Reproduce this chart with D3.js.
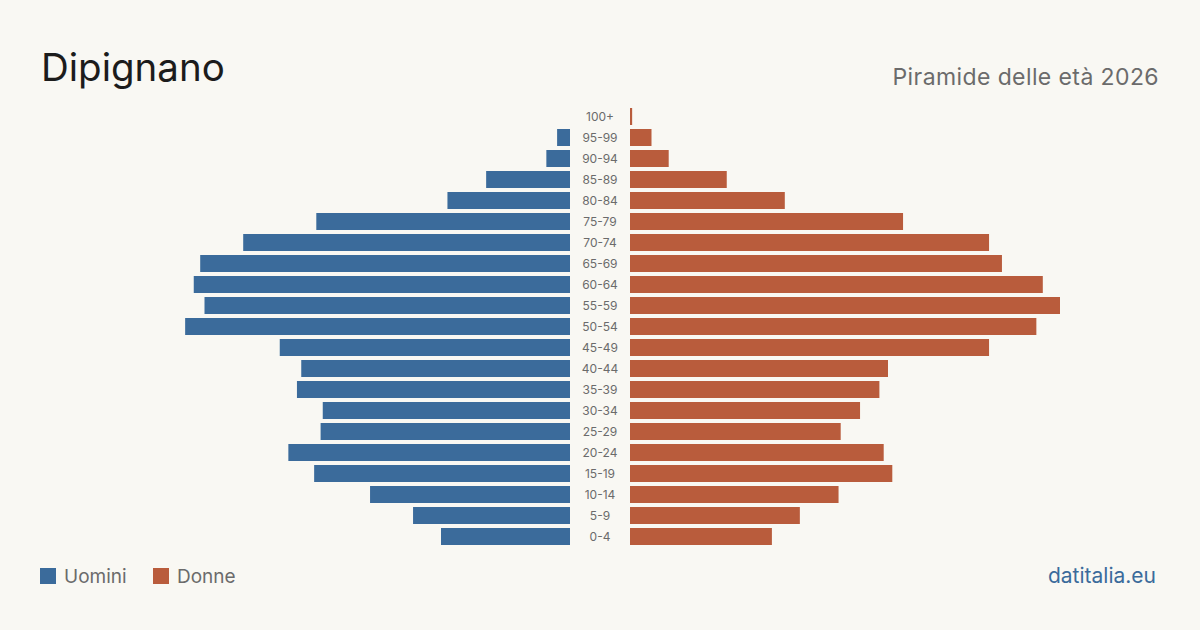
<!DOCTYPE html>
<html>
<head>
<meta charset="utf-8">
<script src="https://cdn.jsdelivr.net/npm/d3@7"></script>
<style>
  html, body { margin: 0; padding: 0; background: #f9f8f3; }
  svg { display: block; font-family: Inter, "Noto Sans", sans-serif; }
</style>
</head>
<body>
<svg id="chart" width="1200" height="630"></svg>
<script>
// classi di età, dall'alto verso il basso
const classi = ["100+", "95-99", "90-94", "85-89", "80-84", "75-79", "70-74", "65-69",
  "60-64", "55-59", "50-54", "45-49", "40-44", "35-39", "30-34", "25-29",
  "20-24", "15-19", "10-14", "5-9", "0-4"];
const uomini = [0, 6, 11, 39, 57, 118, 152, 172, 175, 170, 179, 135, 125, 127, 115, 116, 131, 119, 93, 73, 60];
const donne  = [1, 10, 18, 45, 72, 127, 167, 173, 192, 200, 189, 167, 120, 116, 107, 98, 118, 122, 97, 79, 66];

const BLU = "#3b6b9b";
const ROSSO = "#b95c3c";

const svg = d3.select("#chart");

svg.append("rect").attr("width", 1200).attr("height", 630).attr("fill", "#f9f8f3");

// titolo e sottotitolo
svg.append("text")
  .attr("x", 41).attr("y", 81)
  .attr("font-size", 38.5)
  .attr("fill", "#1c1c1c")
  .text("Dipignano");

svg.append("text")
  .attr("x", 1159).attr("y", 85)
  .attr("text-anchor", "end")
  .attr("font-size", 23)
  .attr("letter-spacing", 0.4)
  .attr("fill", "#6b6b6b")
  .text("Piramide delle età 2026");

// scale
const y = d3.scaleBand()
  .domain(classi)
  .range([106, 547])
  .paddingInner(4 / 21)
  .paddingOuter(2 / 21);

const maxVal = d3.max(uomini.concat(donne));
const x = d3.scaleLinear().domain([0, maxVal]).range([0, 430]);

const centro = 600, gap = 30;

const righe = classi.map((c, i) => ({ classe: c, u: uomini[i], d: donne[i] }));

// barre uomini (sinistra)
svg.append("g")
  .selectAll("rect")
  .data(righe)
  .enter()
  .append("rect")
    .attr("x", d => centro - gap - x(d.u))
    .attr("y", d => y(d.classe))
    .attr("width", d => x(d.u))
    .attr("height", y.bandwidth())
    .attr("fill", BLU);

// barre donne (destra)
svg.append("g")
  .selectAll("rect")
  .data(righe)
  .enter()
  .append("rect")
    .attr("x", centro + gap)
    .attr("y", d => y(d.classe))
    .attr("width", d => x(d.d))
    .attr("height", y.bandwidth())
    .attr("fill", ROSSO);

// etichette età
svg.append("g")
  .selectAll("text")
  .data(righe)
  .enter()
  .append("text")
    .attr("x", centro)
    .attr("y", d => y(d.classe) + y.bandwidth() / 2)
    .attr("dy", "0.35em")
    .attr("text-anchor", "middle")
    .attr("font-size", 12)
    .attr("fill", "#6b6b6b")
    .text(d => d.classe);

// legenda
const legenda = [
  { nome: "Uomini", colore: BLU, x: 40 },
  { nome: "Donne", colore: ROSSO, x: 153 }
];
const lg = svg.append("g")
  .selectAll("g")
  .data(legenda)
  .enter()
  .append("g");
lg.append("rect")
  .attr("x", d => d.x).attr("y", 568)
  .attr("width", 16).attr("height", 16)
  .attr("fill", d => d.colore);
lg.append("text")
  .attr("x", d => d.x + 24).attr("y", 583)
  .attr("font-size", 19)
  .attr("fill", "#6b6b6b")
  .text(d => d.nome);

// fonte
svg.append("text")
  .attr("x", 1156).attr("y", 583)
  .attr("text-anchor", "end")
  .attr("font-size", 21)
  .attr("fill", "#3b6b9b")
  .text("datitalia.eu");
</script>
</body>
</html>
